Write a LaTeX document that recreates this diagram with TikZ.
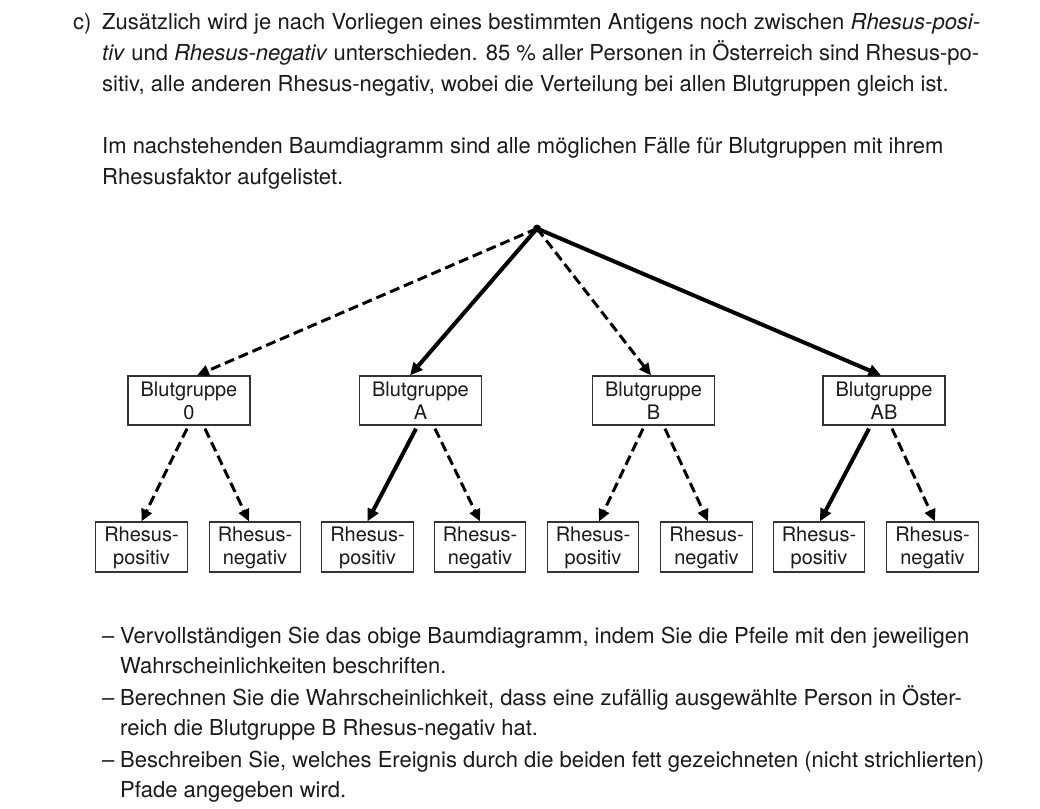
\documentclass[tikz,border=0pt]{standalone}
\usepackage{fontspec}
\setmainfont{TeX Gyre Heros}
\usetikzlibrary{arrows.meta}
\definecolor{ink}{HTML}{1A1A1A}
\begin{document}
\begin{tikzpicture}[x=1pt,y=-1pt,
  txt/.style={anchor=base west, inner sep=0, font=\fontsize{22}{31}\selectfont, text=ink},
  grpbox/.style={draw=black!80, line width=1.3pt, minimum width=122pt, minimum height=49pt, inner sep=0, align=center, text=ink, font=\fontsize{20}{23}\selectfont},
  rhbox/.style={grpbox, minimum width=91.5pt, minimum height=50pt},
  dasharrow/.style={line width=3pt, dash pattern=on 10pt off 5pt, -{Triangle[length=12pt,width=11pt]}},
  solidarrow/.style={line width=4pt, -{Triangle[length=12.5pt,width=11.5pt]}}]
\useasboundingbox (0,0) rectangle (1040,808);
% text above
\node[txt] (lc) at (73,29.5) {c)};
\node[txt] (l1) at (102,29.5) {\makebox[878pt][s]{Zusätzlich wird je nach Vorliegen eines bestimmten Antigens noch zwischen \textit{Rhesus-posi-}}};
\node[txt] (l2) at (102,60.5) {\makebox[877pt][s]{\textit{tiv} und \textit{Rhesus-negativ} unterschieden. 85\ \% aller Personen in Österreich sind Rhesus-po-}};
\node[txt] (l3) at (102,91.5) {sitiv, alle anderen Rhesus-negativ, wobei die Verteilung bei allen Blutgruppen gleich ist.};
\node[txt] (l4) at (102,153) {Im nachstehenden Baumdiagramm sind alle möglichen Fälle für Blutgruppen mit ihrem};
\node[txt] (l5) at (102,184) {Rhesusfaktor aufgelistet.};
% text below
\node[txt] (d1) at (102,643) {–};
\node[txt] (m1) at (120,643) {Vervollständigen Sie das obige Baumdiagramm, indem Sie die Pfeile mit den jeweiligen};
\node[txt] (m1b) at (120,673) {Wahrscheinlichkeiten beschriften.};
\node[txt] (d2) at (102,705) {–};
\node[txt] (m2) at (120,705) {Berechnen Sie die Wahrscheinlichkeit, dass eine zufällig ausgewählte Person in Öster-};
\node[txt] (m2b) at (120,735) {reich die Blutgruppe B Rhesus-negativ hat.};
\node[txt] (d3) at (102,767) {–};
\node[txt] (m3) at (120,767) {Beschreiben Sie, welches Ereignis durch die beiden fett gezeichneten (nicht strichlierten)};
\node[txt] (m3b) at (120,797) {Pfade angegeben wird.};
% tree
\node[circle, fill=black, inner sep=0, minimum size=8pt] (root) at (537,228.5) {};
\node[grpbox] (b0) at (189,400.5) {Blutgruppe\\0};
\node[grpbox] (bA) at (420.5,400.5) {Blutgruppe\\A};
\node[grpbox] (bB) at (653.5,400.5) {Blutgruppe\\B};
\node[grpbox] (bAB) at (884,400.5) {Blutgruppe\\AB};
\node[rhbox] (r1) at (141.5,547) {\rule{0pt}{17pt}Rhesus-\\positiv};
\node[rhbox] (r2) at (255,547) {\rule{0pt}{17pt}Rhesus-\\negativ};
\node[rhbox] (r3) at (367.5,547) {\rule{0pt}{17pt}Rhesus-\\positiv};
\node[rhbox] (r4) at (480,547) {\rule{0pt}{17pt}Rhesus-\\negativ};
\node[rhbox] (r5) at (593,547) {\rule{0pt}{17pt}Rhesus-\\positiv};
\node[rhbox] (r6) at (706.5,547) {\rule{0pt}{17pt}Rhesus-\\negativ};
\node[rhbox] (r7) at (819,547) {\rule{0pt}{17pt}Rhesus-\\positiv};
\node[rhbox] (r8) at (932.5,547) {\rule{0pt}{17pt}Rhesus-\\negativ};
\draw[dasharrow] (root.center) -- ([xshift=8pt]b0.north);
\draw[solidarrow] (root.center) -- ([xshift=-10.5pt]bA.north);
\draw[dasharrow] (root.center) -- ([xshift=-2.5pt]bB.north);
\draw[solidarrow] (root.center) -- ([xshift=-3pt]bAB.north);
\draw[dasharrow] ([xshift=-2pt,yshift=-3pt]b0.south) -- (r1.north);
\draw[dasharrow] ([xshift=16pt,yshift=-3pt]b0.south) -- ([xshift=-6pt]r2.north);
\draw[solidarrow] ([xshift=-4.5pt,yshift=-3pt]bA.south) -- (r3.north);
\draw[dasharrow] ([xshift=14.5pt,yshift=-3pt]bA.south) -- (r4.north);
\draw[dasharrow] ([xshift=-10.5pt,yshift=-3pt]bB.south) -- ([xshift=6pt]r5.north);
\draw[dasharrow] ([xshift=11.5pt,yshift=-3pt]bB.south) -- ([xshift=1.5pt]r6.north);
\draw[solidarrow] ([xshift=-15pt,yshift=-3pt]bAB.south) -- ([xshift=1pt]r7.north);
\draw[dasharrow] ([xshift=8pt,yshift=-3pt]bAB.south) -- ([xshift=2.5pt]r8.north);
\end{tikzpicture}
\end{document}
